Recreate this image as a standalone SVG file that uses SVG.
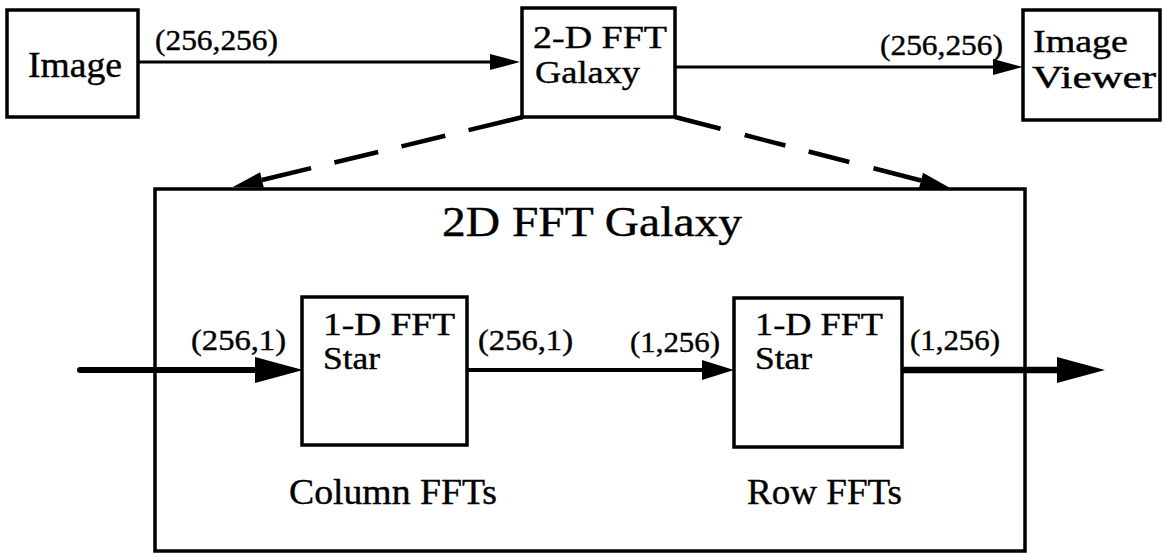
<svg xmlns="http://www.w3.org/2000/svg" width="1165" height="554" viewBox="0 0 1165 554">
<style>
  .box { fill: #fff; stroke: #000; stroke-width: 3.5; }
  text { font-family: "Liberation Serif", "DejaVu Serif", serif; fill: #000; stroke: #000; stroke-width: 0.4; }
  .big { font-size: 35px; }
  .two { font-size: 31px; }
  .lbl { font-size: 29px; }
  .title { font-size: 43px; }
  .ln { fill: none; stroke: #000; }
</style>
<defs>
  <marker id="ahS" markerUnits="userSpaceOnUse" markerWidth="30" markerHeight="16" refX="0" refY="8" orient="auto" overflow="visible">
    <path d="M0,0 L30,8 L0,16 z" fill="#000"/>
  </marker>
  <marker id="ahM" markerUnits="userSpaceOnUse" markerWidth="32" markerHeight="20" refX="0" refY="10" orient="auto" overflow="visible">
    <path d="M0,0 L32,10 L0,20 z" fill="#000"/>
  </marker>
  <marker id="ahL" markerUnits="userSpaceOnUse" markerWidth="48" markerHeight="26" refX="0" refY="13" orient="auto" overflow="visible">
    <path d="M0,0 L48,13 L0,26 z" fill="#000"/>
  </marker>
</defs>
<rect width="1165" height="554" fill="#fff"/>

<g id="galaxy-box">
  <rect class="box" x="155" y="189" width="870" height="362" fill="none"/>
  <text class="title" x="442" y="236" textLength="300" lengthAdjust="spacingAndGlyphs">2D FFT Galaxy</text>
</g>

<g id="image">
  <rect class="box" x="7" y="10" width="131" height="107"/>
  <text class="big" x="28" y="77" textLength="94" lengthAdjust="spacingAndGlyphs">Image</text>
</g>

<g id="fft2d">
  <rect class="box" x="522" y="8" width="153" height="109"/>
  <text class="two" x="533" y="48" textLength="134" lengthAdjust="spacingAndGlyphs">2-D FFT</text>
  <text class="two" x="535" y="83" textLength="105" lengthAdjust="spacingAndGlyphs">Galaxy</text>
</g>

<g id="viewer">
  <rect class="box" x="1023" y="10" width="137" height="110"/>
  <text class="two" x="1033" y="52" textLength="95" lengthAdjust="spacingAndGlyphs">Image</text>
  <text class="two" x="1032" y="88" textLength="124" lengthAdjust="spacingAndGlyphs">Viewer</text>
</g>

<g id="col-star">
  <rect class="box" x="302" y="297" width="165" height="148"/>
  <text class="two" x="323" y="335" textLength="132" lengthAdjust="spacingAndGlyphs">1-D FFT</text>
  <text class="two" x="323" y="369" textLength="57" lengthAdjust="spacingAndGlyphs">Star</text>
  <text class="big" x="289" y="504" textLength="208" lengthAdjust="spacingAndGlyphs">Column FFTs</text>
</g>

<g id="row-star">
  <rect class="box" x="734" y="298" width="168" height="149"/>
  <text class="two" x="755" y="335" textLength="128" lengthAdjust="spacingAndGlyphs">1-D FFT</text>
  <text class="two" x="755" y="369" textLength="57" lengthAdjust="spacingAndGlyphs">Star</text>
  <text class="big" x="747" y="504" textLength="155" lengthAdjust="spacingAndGlyphs">Row FFTs</text>
</g>

<g id="connectors">
  <line class="ln" x1="138" y1="62" x2="490" y2="62" stroke-width="3" marker-end="url(#ahS)"/>
  <line class="ln" x1="675" y1="67" x2="993" y2="67" stroke-width="3" marker-end="url(#ahS)"/>
  <line class="ln" x1="523" y1="117" x2="262" y2="180" stroke-width="4.5" stroke-dasharray="56 24 45 24 45 24 60" marker-end="url(#ahS)"/>
  <line class="ln" x1="675" y1="117" x2="921" y2="180.5" stroke-width="4.5" stroke-dasharray="47 25 42 24 42 25 60" marker-end="url(#ahS)"/>
  <line class="ln" x1="80" y1="370" x2="255" y2="370" stroke-width="6" stroke-linecap="round" marker-end="url(#ahL)"/>
  <line class="ln" x1="467" y1="370" x2="702" y2="370" stroke-width="4" marker-end="url(#ahM)"/>
  <line class="ln" x1="902" y1="370" x2="1057" y2="370" stroke-width="6.5" marker-end="url(#ahL)"/>
  <text class="lbl" x="155" y="50" textLength="123" lengthAdjust="spacingAndGlyphs">(256,256)</text>
  <text class="lbl" x="880" y="55" textLength="123" lengthAdjust="spacingAndGlyphs">(256,256)</text>
  <text class="lbl" x="191" y="350" textLength="95" lengthAdjust="spacingAndGlyphs">(256,1)</text>
  <text class="lbl" x="478" y="350" textLength="95" lengthAdjust="spacingAndGlyphs">(256,1)</text>
  <text class="lbl" x="630" y="352" textLength="90" lengthAdjust="spacingAndGlyphs">(1,256)</text>
  <text class="lbl" x="910" y="350" textLength="90" lengthAdjust="spacingAndGlyphs">(1,256)</text>
</g>
</svg>
